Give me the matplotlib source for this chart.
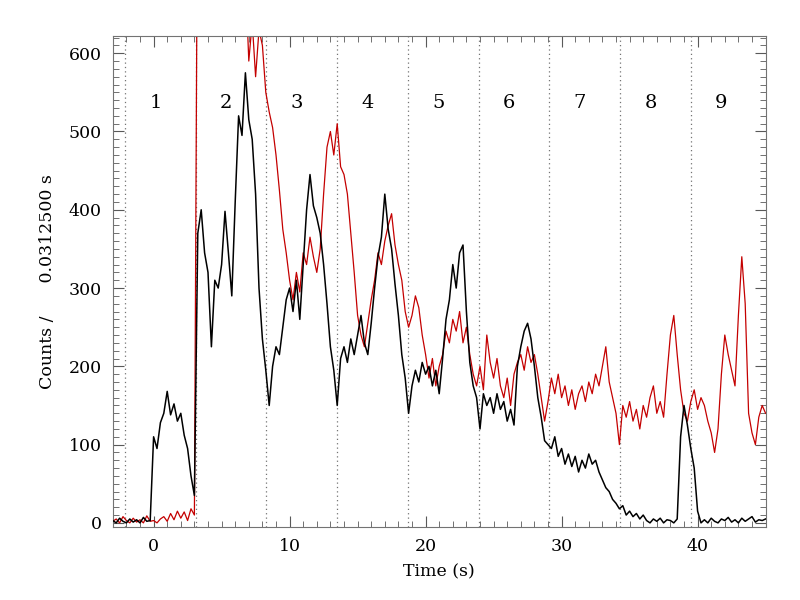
import matplotlib
matplotlib.use("Agg")
import matplotlib.pyplot as plt
import numpy as np

# time bins every 0.25 s from -3 to 45
t0, t1, dt = -3.0, 45.0, 0.25

black = [3, 0, 6, 2, 0, 5, 1, 4, 0, 7, 2, 3,          # -3 .. -0.25
         110, 95, 128, 140, 168, 138, 152, 130,        # 0 .. 1.75
         140, 112, 95, 60, 35, 370, 400, 345,          # 2 .. 3.75
         320, 225, 310, 300, 330, 398, 345, 290,       # 4 .. 5.75
         410, 520, 495, 575, 515, 490, 420, 300,       # 6 .. 7.75
         235, 195, 150, 200, 225, 215, 250, 285,       # 8 .. 9.75
         300, 270, 310, 260, 330, 400, 445, 405,       # 10 .. 11.75
         390, 370, 330, 280, 225, 195, 150, 210,       # 12 .. 13.75
         225, 205, 235, 215, 240, 265, 230, 215,       # 14 .. 15.75
         255, 300, 340, 365, 420, 375, 350, 305,       # 16 .. 17.75
         265, 215, 185, 140, 175, 195, 180, 205,       # 18 .. 19.75
         190, 200, 175, 195, 165, 210, 260, 285,       # 20 .. 21.75
         330, 300, 345, 355, 270, 205, 175, 160,       # 22 .. 23.75
         120, 165, 150, 160, 140, 165, 145, 155,       # 24 .. 25.75
         130, 145, 125, 200, 225, 245, 255, 235,       # 26 .. 27.75
         200, 160, 135, 105, 100, 95, 110, 85,         # 28 .. 29.75
         95, 75, 88, 72, 85, 65, 80, 70,               # 30 .. 31.75
         88, 75, 80, 65, 55, 45, 40, 30,               # 32 .. 33.75
         25, 18, 22, 10, 15, 8, 12, 5,                 # 34 .. 35.75
         10, 3, 0, 5, 2, 6, 0, 4,                      # 36 .. 37.75
         3, 0, 5, 110, 150, 125, 95, 70,               # 38 .. 39.75
         15, 0, 4, 0, 6, 2, 0, 5,                      # 40 .. 41.75
         3, 7, 1, 4, 0, 6, 2, 5,                       # 42 .. 43.75
         8, 1, 4, 3, 5]                                # 44 .. 45

red = [2, 5, 0, 8, 3, 0, 6, 1, 4, 0, 9, 2,            # -3 .. -0.25
       3, 0, 5, 8, 2, 12, 4, 15,                       # 0 .. 1.75
       6, 14, 3, 18, 10, 900, 900, 900,                # 2 .. 3.75
       900, 900, 900, 900, 900, 900, 900, 900,         # 4 .. 5.75
       900, 900, 900, 700, 590, 640, 570, 630,         # 6 .. 7.75
       610, 550, 525, 505, 470, 425, 375, 345,         # 8 .. 9.75
       310, 285, 320, 295, 345, 330, 365, 340,         # 10 .. 11.75
       320, 350, 420, 480, 500, 470, 510, 455,         # 12 .. 13.75
       445, 420, 370, 320, 265, 240, 225, 255,         # 14 .. 15.75
       285, 310, 345, 330, 360, 380, 395, 355,         # 16 .. 17.75
       330, 310, 270, 250, 265, 290, 275, 240,         # 18 .. 19.75
       215, 185, 210, 175, 200, 215, 245, 230,         # 20 .. 21.75
       260, 245, 270, 230, 250, 215, 190, 175,         # 22 .. 23.75
       200, 170, 240, 205, 185, 210, 175, 160,         # 24 .. 25.75
       185, 150, 190, 205, 215, 195, 225, 205,         # 26 .. 27.75
       215, 190, 160, 130, 155, 185, 165, 190,         # 28 .. 29.75
       160, 175, 150, 170, 145, 165, 175, 155,         # 30 .. 31.75
       180, 165, 190, 175, 200, 225, 180, 160,         # 32 .. 33.75
       140, 100, 150, 135, 155, 130, 145, 120,         # 34 .. 35.75
       150, 135, 160, 175, 140, 155, 135, 190,         # 36 .. 37.75
       240, 265, 215, 170, 140, 130, 155, 170,         # 38 .. 39.75
       145, 160, 150, 130, 115, 90, 120, 190,          # 40 .. 41.75
       240, 215, 195, 175, 265, 340, 280, 140,         # 42 .. 43.75
       115, 100, 135, 150, 140]                        # 44 .. 45

# interval boundaries and their labels
bounds = [-2.1, 3.1, 8.3, 13.5, 18.7, 23.9, 29.1, 34.3, 39.5]
labels = ["1", "2", "3", "4", "5", "6", "7", "8", "9"]

t = np.arange(len(black)) * dt + t0

plt.rcParams['font.family'] = ['DejaVu Serif']
fig = plt.figure(figsize=(8, 6), dpi=100)
ax = fig.add_axes([0.141, 0.122, 0.816, 0.818])

for b in bounds:
    ax.axvline(b, color='0.45', ls=(0, (1, 2.5)), lw=0.9, zorder=1)

ax.plot(t, black, color='black', lw=1.1, zorder=3)
ax.plot(t, red, color='#c40000', lw=0.9, zorder=2)

for i in range(len(labels)):
    mid = (bounds[i] + bounds[i] + 5.2) / 2 - 0.35
    ax.text(mid, 536, labels[i], ha='center', va='center', fontsize=14)

ax.set_xlim(t0, t1)
ax.set_ylim(-5, 622)
ax.set_xticks([0, 10, 20, 30, 40])
ax.set_xticks(np.arange(-3, 46, 1), minor=True)
ax.set_yticks([0, 100, 200, 300, 400, 500, 600])
ax.set_yticks(np.arange(0, 621, 10), minor=True)
ax.tick_params(which='both', direction='in', top=True, right=True, labelsize=12.5, pad=8, color='0.35')
ax.tick_params(which='major', length=8)
ax.tick_params(which='minor', length=4)
for s in ax.spines.values():
    s.set_color('0.45')

ax.set_xlabel("Time (s)", fontsize=12.5, labelpad=6)
ax.set_ylabel("Counts /      0.0312500 s", fontsize=12.5, labelpad=9)

fig.savefig("out.png", dpi=100)
